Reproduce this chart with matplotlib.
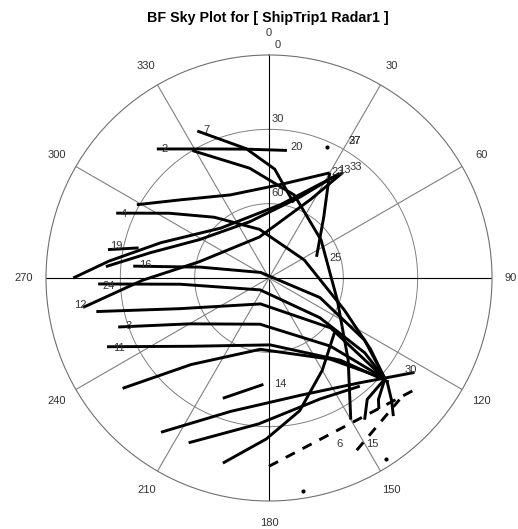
import numpy as np
import matplotlib
matplotlib.use("Agg")
import matplotlib.pyplot as plt

plt.rcParams["font.family"] = ["Liberation Sans", "DejaVu Sans"]

# satellite tracks as (azimuth deg, elevation deg)
trk_7 = [(334, 24), (350, 37), (3, 46), (18, 58)]
trk_2 = [(319, 21), (332, 31), (349, 37), (8, 38)]
trk_a = [(329, 30), (350, 45), (17, 55), (54, 64), (108, 61), (136, 44), (150, 24)]
trk_u1 = [(299, 29), (311, 42), (335, 53), (7, 52), (30, 41)]
trk_u2 = [(270, 11), (276, 25), (288, 44), (316, 62), (9, 60), (33, 41)]
trk_u3 = [(274, 24), (282, 41), (299, 58), (341, 66), (21, 55), (34, 39)]
trk_u4 = [(261, 14), (269, 39), (283, 61), (347, 73), (28, 54), (35, 38)]
trk_25 = [(30, 41), (42, 57), (66, 69)]
trk_l1 = [(293, 23), (303, 42), (318, 57), (349, 70), (63, 74), (113, 57), (125, 40), (131, 28)]
trk_l2 = [(275, 35), (279, 62), (304, 86), (111, 68), (123, 44), (131, 28)]
trk_l3 = [(268, 21), (266, 54), (217, 84), (128, 64), (128, 41), (131, 28)]
trk_l4 = [(259, 19), (251, 52), (198, 79), (129, 58), (131, 28)]
trk_l5 = [(252, 26), (240, 53), (191, 71), (138, 53), (131, 28)]
trk_l6 = [(247, 19), (229, 48), (179, 63), (139, 46), (131, 26)]
trk_l8 = [(233, 16), (222, 43), (187, 61), (143, 49), (131, 28)]
trk_l9 = [(215, 14), (196, 34), (165, 41), (139, 34), (123, 20)]
trk_l10 = [(206, 16), (184, 31), (157, 37), (140, 33)]
trk_l11 = [(194, 13), (181, 25), (167, 35), (150, 47), (128, 56)]
trk_14 = [(201, 38), (183, 47)]
trk_d1 = [(131, 28), (141, 27), (146, 21)]
trk_d2 = [(131, 28), (138, 24), (140, 21)]
trk_d3 = [(131, 27), (135, 20), (138, 15)]
trk_19 = [(280, 24), (283, 36)]
solid_tracks = [trk_7, trk_2, trk_a, trk_u1, trk_u2, trk_u3, trk_u4, trk_25,
                trk_l1, trk_l2, trk_l3, trk_l4, trk_l5, trk_l6, trk_l8,
                trk_l9, trk_l10, trk_l11, trk_14, trk_d1, trk_d2, trk_d3, trk_19]

trk_6 = [(180, 14), (126, 15)]
trk_15 = [(153, 12), (133, 18)]
dashed_tracks = [trk_6, trk_15]

stray_dots = [(171, 3), (147, 3), (24, 32)]

# PRN labels at the track ends
prn_text = ["7", "2", "20", "27", "37", "23", "13", "33", "25", "4", "19", "16",
            "24", "12", "3", "11", "14", "30", "6", "15"]
prn_az = [337, 321, 12, 32, 32, 33, 35, 38, 73, 294, 282, 276, 267, 262, 251, 245, 174, 123, 157, 148]
prn_el = [25, 23, 36, 25, 25, 39, 37, 33, 62, 26, 27, 40, 25, 13, 30, 23, 47, 22, 17, 11]

az_ticks = list(range(0, 360, 30))
el_rings = [0, 30, 60]

fig = plt.figure(figsize=(5.18, 5.29), dpi=100)
ax = fig.add_axes([46 / 518, 28 / 529, 446 / 518, 446 / 529], projection="polar")
ax.set_theta_zero_location("N")
ax.set_theta_direction(-1)
ax.set_ylim(90, 0)
ax.set_xticks([])
ax.set_yticks([])
ax.grid(False)
ax.spines["polar"].set_color("#707070")
ax.spines["polar"].set_linewidth(0.8)

# grid: rings and spokes
full = np.radians(np.arange(0, 361, 2))
for ring in el_rings[1:]:
    ax.plot(full, [ring] * len(full), color="#808080", lw=0.7, zorder=1)
for a in az_ticks[:6]:
    col = "black" if a % 90 == 0 else "#808080"
    ax.plot(np.radians([a, a + 180]), [0, 0], color=col, lw=0.8, zorder=1)

for a in az_ticks:
    off = -7.5 if a == 90 else -9
    ax.text(np.radians(a), off, str(a), ha="center", va="center",
            fontsize=8, color="#333333", clip_on=False)
for ring in el_rings:
    ax.annotate(str(ring), (0, ring), xytext=(6.5, 7.5), textcoords="offset points",
                ha="center", va="center", fontsize=8, color="#333333",
                annotation_clip=False)

for trk in solid_tracks:
    az, el = zip(*trk)
    ax.plot(np.radians(az), el, color="black", lw=2.1, solid_capstyle="butt", zorder=3)
for trk in dashed_tracks:
    az, el = zip(*trk)
    ax.plot(np.radians(az), el, color="black", lw=2.1, dashes=(3.5, 3), zorder=3)
az, el = zip(*stray_dots)
ax.plot(np.radians(az), el, "o", color="black", ms=2, zorder=3)

for t, a, e in zip(prn_text, prn_az, prn_el):
    ax.text(np.radians(a), e, t, ha="center", va="center", fontsize=8,
            color="#333333", zorder=4)

fig.text(0.517, 0.966, "BF Sky Plot for [ ShipTrip1 Radar1 ]", ha="center",
         va="center", fontsize=10.3, fontweight="bold")

fig.savefig("out.png")
